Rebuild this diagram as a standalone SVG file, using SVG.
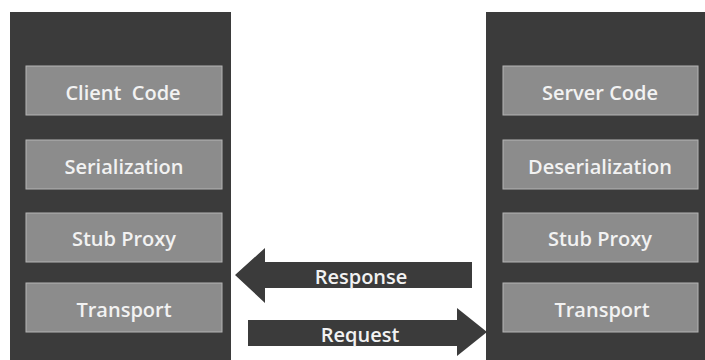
<svg xmlns="http://www.w3.org/2000/svg" width="705" height="360" viewBox="0 0 705 360">
<style>
.panel{fill:#3b3b3b;}
.box{fill:#8c8c8c;stroke:#b5b5b5;stroke-width:1;}
.t{font-family:"Open Sans","Liberation Sans",sans-serif;font-size:20px;font-weight:600;fill:#f2f2f2;text-anchor:middle;dominant-baseline:central;}
.arrow{fill:#3b3b3b;}
</style>
<rect width="705" height="360" fill="#ffffff"/>
<g id="client">
<rect class="panel" x="10" y="12" width="221" height="348"/>
<g id="client-code"><rect class="box" x="26" y="66" width="196" height="49"/><text class="t" x="123" y="92" xml:space="preserve">Client  Code</text></g>
<g id="serialization"><rect class="box" x="26" y="140" width="196" height="49"/><text class="t" x="124" y="166">Serialization</text></g>
<g id="client-stub"><rect class="box" x="26" y="213" width="196" height="49"/><text class="t" x="124" y="238">Stub Proxy</text></g>
<g id="client-transport"><rect class="box" x="26" y="283" width="196" height="49"/><text class="t" x="124" y="309">Transport</text></g>
</g>
<g id="server">
<rect class="panel" x="486" y="12" width="219" height="348"/>
<g id="server-code"><rect class="box" x="503" y="66" width="195" height="49"/><text class="t" x="600" y="92">Server Code</text></g>
<g id="deserialization"><rect class="box" x="503" y="140" width="195" height="49"/><text class="t" x="600" y="166">Deserialization</text></g>
<g id="server-stub"><rect class="box" x="503" y="213" width="195" height="49"/><text class="t" x="600" y="238">Stub Proxy</text></g>
<g id="server-transport"><rect class="box" x="503" y="283" width="195" height="49"/><text class="t" x="602" y="309">Transport</text></g>
</g>
<g id="connectors">
<g id="response"><polygon class="arrow" points="235,275 265,248 265,262 472,262 472,288 265,288 265,303"/><text class="t" x="361" y="276">Response</text></g>
<g id="request"><polygon class="arrow" points="248,320 457,320 457,308 487,332 457,356 457,346 248,346"/><text class="t" x="360" y="334">Request</text></g>
</g>
</svg>
